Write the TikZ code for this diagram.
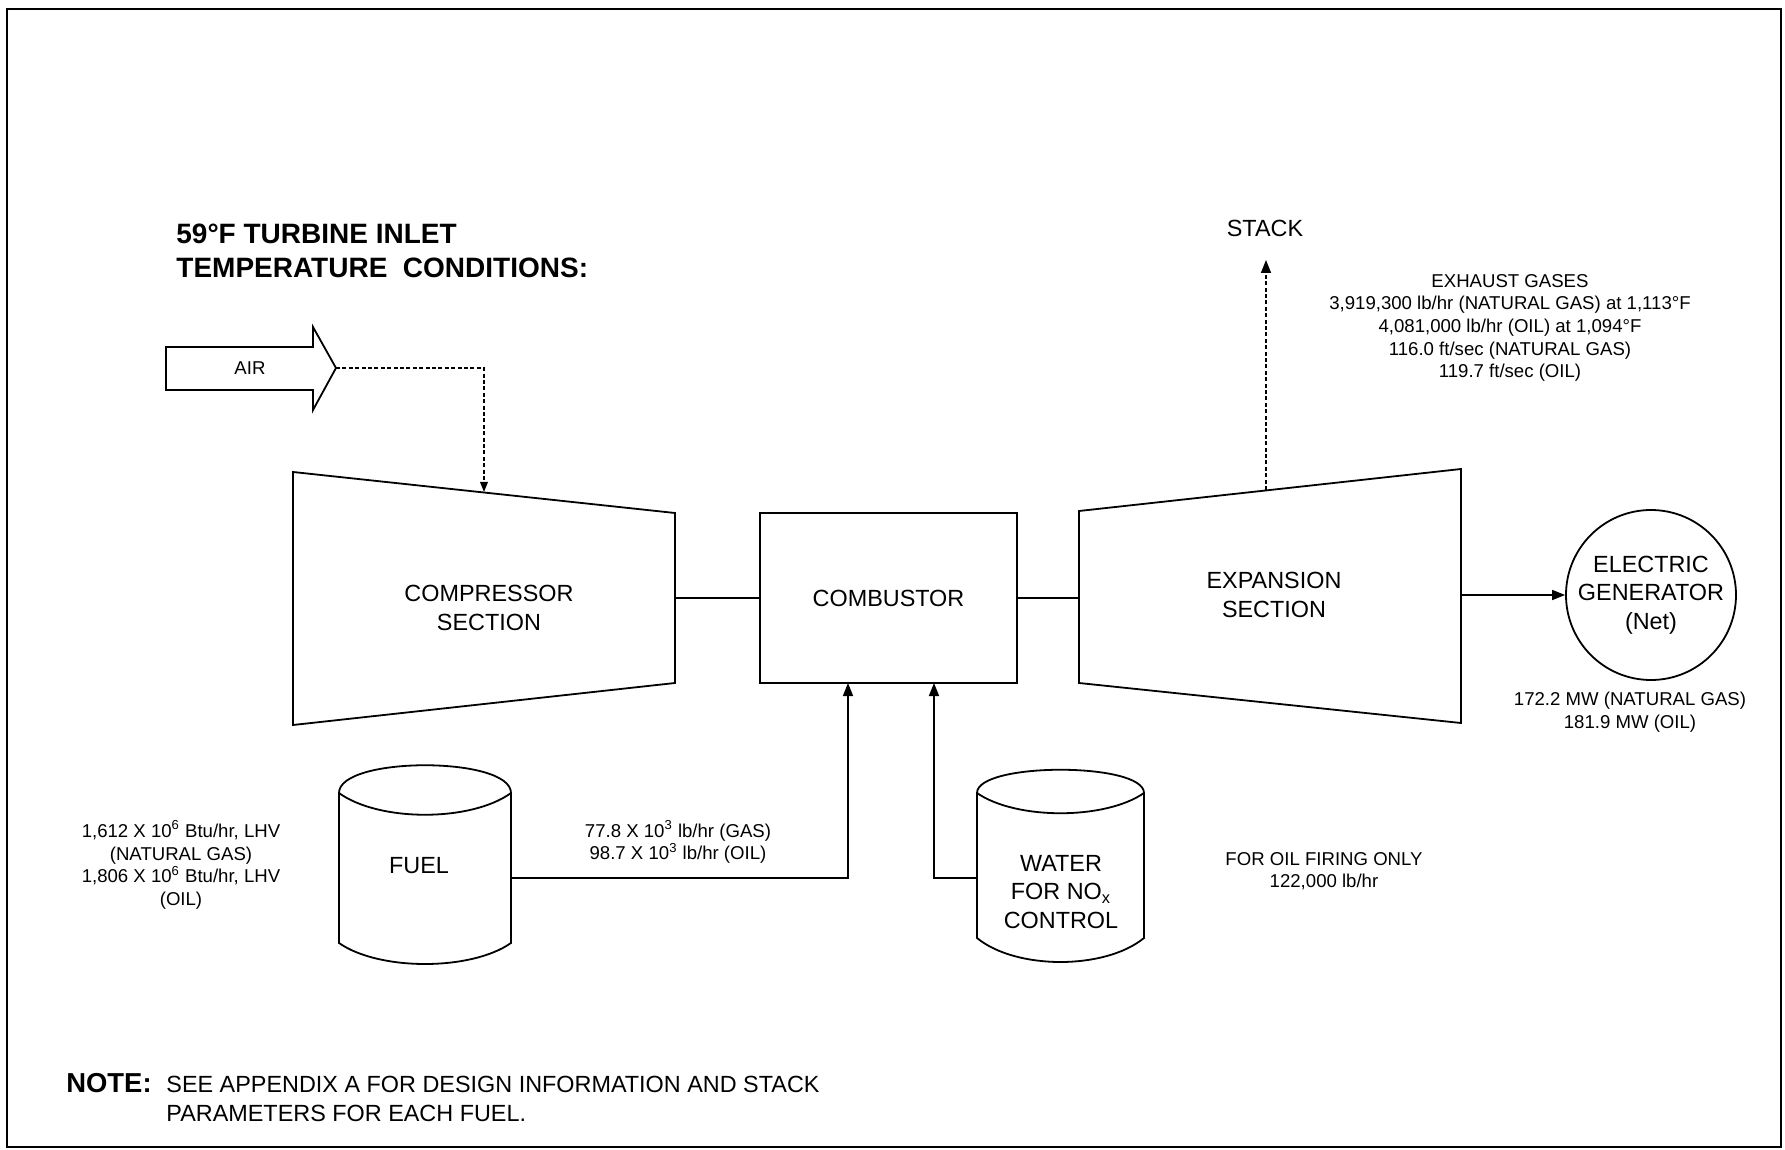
\documentclass[tikz,border=0pt]{standalone}
\usepackage{fontspec}
\setmainfont{Liberation Sans}
\usetikzlibrary{arrows.meta}
\begin{document}
\begin{tikzpicture}[x=0.5pt,y=-0.5pt,
  shapeline/.style={line width=0.9pt, line join=miter},
  conn/.style={line width=0.8pt},
  dconn/.style={line width=0.8pt, dash pattern=on 2pt off 1.2pt},
  tipbig/.style={-{Triangle[length=6.5pt,width=5pt]}},
  tipsmall/.style={-{Triangle[length=5pt,width=3.8pt]}},
  lab/.style={inner sep=0pt, font=\fontsize{11.7}{14.3}\selectfont, align=center},
  small/.style={inner sep=0pt, font=\fontsize{9.3}{11.3}\selectfont, align=center},
  ttl/.style={inner sep=0pt, anchor=base west, font=\fontsize{14}{17}\selectfont\bfseries},
]
\useasboundingbox (0,0) rectangle (1785,1150);
% frame
\draw[line width=1.1pt] (7,9) rectangle (1781,1147);

% title
\node[ttl] (title1) at (176,244) {59°F TURBINE INLET};
\node[ttl] (title2) at (176,278) {TEMPERATURE\ \ CONDITIONS:};

% air arrow
\draw[shapeline] (166,347) -- (313,347) -- (313,327) -- (336,368) -- (313,410) -- (313,390) -- (166,390) -- cycle;
\node[small] (air) at (250,368) {AIR};
\coordinate (airtip) at (336,368);

% compressor
\coordinate (c1) at (293,472);
\coordinate (c2) at (675,513);
\coordinate (c3) at (675,683);
\coordinate (c4) at (293,725);
\draw[shapeline] (c1) -- (c2) -- (c3) -- (c4) -- cycle;
\node[lab] (comp) at (489,608) {COMPRESSOR\\SECTION};
\coordinate (compin) at (484,492);
\coordinate (compR) at (675,598);

% combustor
\node[draw, shapeline, lab, minimum width=128.5pt, minimum height=85pt] (comb) at (888.5,598) {COMBUSTOR};
\coordinate (combF) at (848,683);
\coordinate (combW) at (934,683);

% expansion
\coordinate (e1) at (1079,511);
\coordinate (e2) at (1461,469);
\coordinate (e3) at (1461,723);
\coordinate (e4) at (1079,683);
\draw[shapeline] (e1) -- (e2) -- (e3) -- (e4) -- cycle;
\node[lab] (exp) at (1274,595) {EXPANSION\\SECTION};
\coordinate (expL) at (1079,598);
\coordinate (expR) at (1461,595);
\coordinate (stackbase) at (1266,490);
\coordinate (stacktip) at (1266,260);

% generator
\node[draw, shapeline, circle, minimum size=85pt, lab, font=\fontsize{11.7}{14.2}\selectfont] (gen) at (1651,595) {ELECTRIC\\GENERATOR\\(Net)};

% stack
\node[lab] (stack) at (1265,228) {STACK};
\node[small] (exh) at (1510,328) {EXHAUST GASES\\3,919,300 lb/hr (NATURAL GAS) at 1,113°F\\4,081,000 lb/hr (OIL) at 1,094°F\\116.0 ft/sec (NATURAL GAS)\\119.7 ft/sec (OIL)};

% generator output
\node[small] (mw) at (1630,712) {172.2 MW (NATURAL GAS)\\181.9 MW (OIL)};

% fuel cylinder
\draw[shapeline] (339,793) .. controls (339,756) and (511,756) .. (511,793)
  -- (511,943) .. controls (471,971) and (379,971) .. (339,943) -- cycle;
\draw[shapeline] (339,793) .. controls (379,822) and (471,822) .. (511,793);
\node[lab] (fuel) at (419,866) {FUEL};
\coordinate (fuelR) at (511,878);

% water cylinder
\draw[shapeline] (977,793) .. controls (977,762) and (1144,762) .. (1144,793)
  -- (1144,938) .. controls (1105,970) and (1016,970) .. (977,938) -- cycle;
\draw[shapeline] (977,793) .. controls (1016,820) and (1105,820) .. (1144,793);
\node[lab] (water) at (1061,892) {WATER\\FOR NO\textsubscript{x}\\CONTROL};
\coordinate (waterL) at (977,878);

% labels
\node[small] (heat) at (181,865) {1,612 X 10\textsuperscript{6} Btu/hr, LHV\\(NATURAL GAS)\\1,806 X 10\textsuperscript{6} Btu/hr, LHV\\(OIL)};
\node[small] (fuelflow) at (678,842) {77.8 X 10\textsuperscript{3} lb/hr (GAS)\\98.7 X 10\textsuperscript{3} lb/hr (OIL)};
\node[small] (oil) at (1324,871) {FOR OIL FIRING ONLY\\122,000 lb/hr};

% note
\node[inner sep=0pt, anchor=base west, font=\fontsize{13.7}{16}\selectfont\bfseries] (note) at (66,1092) {NOTE:};
\node[inner sep=0pt, anchor=base west, font=\fontsize{11.7}{14}\selectfont] (note1) at (166,1092) {SEE APPENDIX A FOR DESIGN INFORMATION AND STACK};
\node[inner sep=0pt, anchor=base west, font=\fontsize{11.7}{14}\selectfont] (note2) at (166,1121) {PARAMETERS FOR EACH FUEL.};

% connectors
\draw[dconn, tipsmall] (airtip) -| (compin);
\draw[conn] (compR) -- (comb.west);
\draw[conn] (comb.east) -- (expL);
\draw[dconn, tipbig] (stackbase) -- (stacktip);
\draw[conn, tipbig] (expR) -- (gen.west);
\draw[conn, tipbig] (fuelR) -| (combF);
\draw[conn, tipbig] (waterL) -| (combW);
\end{tikzpicture}
\end{document}
